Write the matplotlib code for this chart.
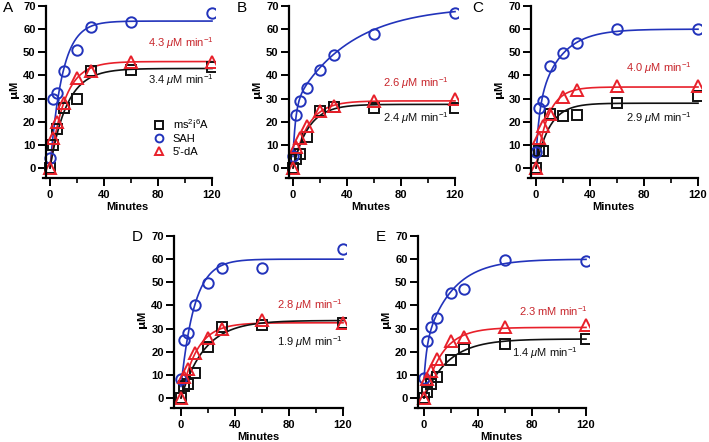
import numpy as np
import matplotlib
matplotlib.use("Agg")
import matplotlib.pyplot as plt

plt.rcParams['font.family'] = ['Liberation Sans', 'DejaVu Sans']
plt.rcParams['mathtext.fontset'] = 'custom'
plt.rcParams['mathtext.rm'] = 'Liberation Sans'
plt.rcParams['mathtext.it'] = 'Liberation Sans:italic'

# time points (min)
t = [0, 2.5, 5, 10, 20, 30, 60, 120]

ms_A = [0, 10, 17, 26, 30, 42, 42.5, 43.5]
sah_A = [4.5, 30, 32.5, 42, 51, 61, 63, 67]
da_A = [0, 13, 20, 28, 39, 42, 46, 46]

ms_B = [0, 4, 6, 13.5, 24.5, 26.5, 26, 26]
sah_B = [5, 23, 29, 34.5, 42.5, 49, 58, 67]
da_B = [0, 9, 13, 18, 24.5, 27, 29, 30]

ms_C = [0, 7.5, 7.5, 23.5, 22.5, 23, 28, 31]
sah_C = [7, 26, 29, 44, 49.5, 54, 60, 60]
da_C = [0, 13, 18, 23.5, 30.5, 33.5, 35.5, 35.5]

ms_D = [0, 5, 6, 11, 22, 30.5, 31.5, 32.5]
sah_D = [8, 25, 28, 40, 49.5, 56, 56, 64.5]
da_D = [0, 9, 12.5, 19.5, 26, 30, 33.5, 32.5]

ms_E = [0, 2.5, 6, 9, 16.5, 21, 23.5, 25.5]
sah_E = [8.5, 24.5, 30.5, 34.5, 45.5, 47, 59.5, 59]
da_E = [0, 8, 11.5, 17, 24.5, 26.5, 30.5, 31.5]

# fit parameters: y0, A1, k1, A2, k2  -> y = y0 + A1(1-e^-k1 t) + A2(1-e^-k2 t)
fit_ms = {'A': (0, 43, 0.08, 0, 0), 'B': (0, 27.5, 0.087, 0, 0), 'C': (0, 28, 0.1, 0, 0),
          'D': (0, 33.5, 0.057, 0, 0), 'E': (0, 25.5, 0.055, 0, 0)}
fit_sah = {'A': (0, 63.5, 0.11, 0, 0), 'B': (5, 22, 0.5, 43, 0.024), 'C': (5, 20, 0.4, 35, 0.06),
           'D': (5, 55, 0.1, 0, 0), 'E': (8, 14, 0.5, 38, 0.05)}
fit_da = {'A': (0, 46, 0.093, 0, 0), 'B': (0, 29, 0.09, 0, 0), 'C': (0, 35, 0.114, 0, 0),
          'D': (0, 32.5, 0.086, 0, 0), 'E': (0, 30.5, 0.075, 0, 0)}

rate_ms = {'A': '3.4', 'B': '2.4', 'C': '2.9', 'D': '1.9', 'E': '1.4'}
rate_da = {'A': '4.3', 'B': '2.6', 'C': '4.0', 'D': '2.8', 'E': '2.3'}
unit_da = {'A': r'$\mu$M', 'B': r'$\mu$M', 'C': r'$\mu$M', 'D': r'$\mu$M', 'E': 'mM'}
# label positions (x right edge, y) in data units
pos_ms = {'A': (121, 38), 'B': (115, 21.6), 'C': (115, 21.6), 'D': (120, 24.2), 'E': (114, 19.4)}
pos_da = {'A': (121, 54), 'B': (115, 36.7), 'C': (115, 43), 'D': (120, 40), 'E': (121, 37.6)}

xlabels = {'A': 'Minutes', 'B': 'Mnutes', 'C': 'Minutes', 'D': 'Minutes', 'E': 'Minutes'}

data = {'A': (ms_A, sah_A, da_A), 'B': (ms_B, sah_B, da_B), 'C': (ms_C, sah_C, da_C),
        'D': (ms_D, sah_D, da_D), 'E': (ms_E, sah_E, da_E)}

W, H = 709, 442
px_x = 1.35
px_y = 2.314
xlo, xhi = -7, 122
ylo, yhi = -4.5, 71
origins = {'A': (50, 168), 'B': (293, 168), 'C': (536, 168), 'D': (181, 398), 'E': (424, 398)}
yspine = {'A': -3, 'B': -3, 'C': -3.5, 'D': -5, 'E': -4.5}
letter_pos = {'A': (3, 8), 'B': (237, 8), 'C': (472, 8), 'D': (132, 237), 'E': (376, 237)}

black = '#111111'
blue = '#2233bb'
red = '#e8202a'
dred = '#c8262c'


def model(p, tt):
    y0, a1, k1, a2, k2 = p
    return y0 + a1 * (1 - np.exp(-k1 * tt)) + a2 * (1 - np.exp(-k2 * tt))


fig = plt.figure(figsize=(W / 100, H / 100), dpi=100)
tt = np.linspace(0, 120, 400)

for key in ['A', 'B', 'C', 'D', 'E']:
    x0, y0 = origins[key]
    left = x0 + xlo * px_x
    right = x0 + xhi * px_x
    top = y0 - yhi * px_y
    bottom = y0 - ylo * px_y
    ax = fig.add_axes([left / W, 1 - bottom / H, (right - left) / W, (bottom - top) / H])
    ms, sah, da = data[key]

    ax.plot(tt, model(fit_sah[key], tt), color=blue, lw=1.2)
    ax.plot(tt, model(fit_da[key], tt), color=red, lw=1.2)
    ax.plot(tt, model(fit_ms[key], tt), color=black, lw=1.2)

    ax.plot(t, ms, 's', mfc='none', mec=black, mew=1.4, ms=7, label='ms$^{2}$i$^{6}$A')
    ax.plot(t, sah, 'o', mfc='none', mec=blue, mew=1.4, ms=7.5, label='SAH')
    ax.plot(t, da, '^', mfc='none', mec=red, mew=1.4, ms=8, label="5'-dA")

    ax.set_xlim(xlo, xhi)
    ax.set_ylim(ylo, yhi)
    for s in ['top', 'right']:
        ax.spines[s].set_visible(False)
    ax.spines['left'].set_position(('data', yspine[key]))
    ax.spines['left'].set_bounds(ylo, 70)
    ax.spines['bottom'].set_bounds(yspine[key] - 2.5, 120)
    for s in ['left', 'bottom']:
        ax.spines[s].set_linewidth(1.6)
    ax.set_xticks([0, 40, 80, 120])
    ax.set_xticks([20, 60, 100], minor=True)
    ax.set_yticks(range(0, 71, 10))
    ax.tick_params(width=1.4, length=5.5, labelsize=8, pad=2)
    ax.tick_params(axis='x', pad=3)
    ax.tick_params(which='minor', width=1.2, length=3.5)
    for lab in ax.get_xticklabels() + ax.get_yticklabels():
        lab.set_fontweight('bold')
    ax.set_xlabel(xlabels[key], fontsize=8, fontweight='bold', labelpad=1)
    ax.set_ylabel(r'$\mathbf{\mu}$M', fontsize=8, fontweight='bold', labelpad=1)

    xr, yr = pos_da[key]
    ax.text(xr, yr, rate_da[key] + ' ' + unit_da[key] + ' min$^{-1}$', color=dred,
            fontsize=8, ha='right', va='center')
    xr, yr = pos_ms[key]
    ax.text(xr, yr, rate_ms[key] + r' $\mu$M min$^{-1}$', color=black,
            fontsize=8, ha='right', va='center')

    lx, ly = letter_pos[key]
    fig.text(lx / W, 1 - ly / H, key, fontsize=11, va='center', ha='left')

    if key == 'A':
        ax.legend(loc='upper left', bbox_to_anchor=(0.65, 0.35), frameon=False,
                  fontsize=8, handlelength=1.0, handletextpad=0.7, labelspacing=0.25,
                  markerscale=0.75, borderpad=0, borderaxespad=0)

fig.savefig('out.png', dpi=100)
